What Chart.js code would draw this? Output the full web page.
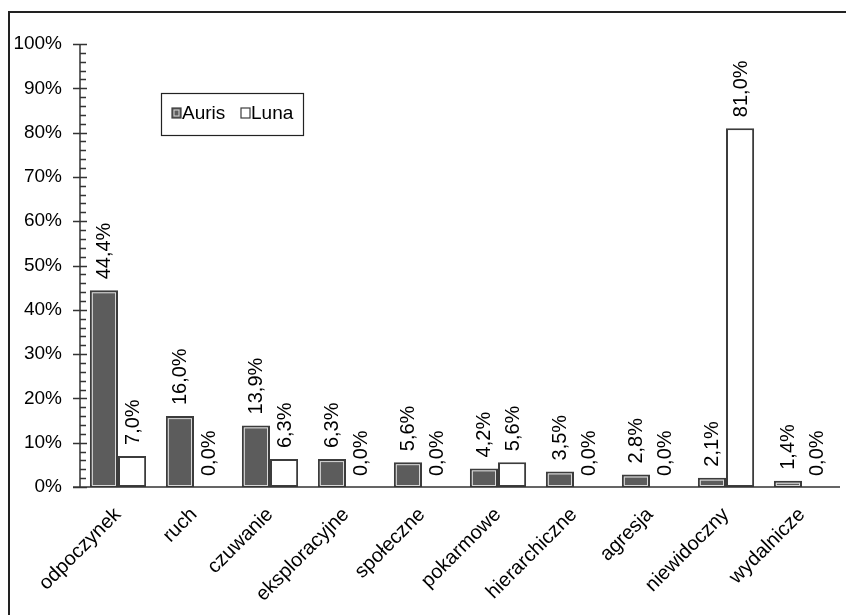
<!DOCTYPE html>
<html>
<head>
<meta charset="utf-8">
<script src="https://cdn.jsdelivr.net/npm/chart.js@4"></script>
<style>
  body { margin: 0; background: #fff; }
  #wrap { width: 846px; height: 615px; }
</style>
</head>
<body>
<div id="wrap"><canvas id="myChart" width="846" height="615"></canvas></div>
<script>
const labels = ['odpoczynek', 'ruch', 'czuwanie', 'eksploracyjne', 'społeczne',
  'pokarmowe', 'hierarchiczne', 'agresja', 'niewidoczny', 'wydalnicze'];
const auris = [44.4, 16.0, 13.9, 6.3, 5.6, 4.2, 3.5, 2.8, 2.1, 1.4];
const luna = [7.0, 0.0, 6.3, 0.0, 0.0, 5.6, 0.0, 0.0, 81.0, 0.0];
const seriesNames = ['Auris', 'Luna'];

let font = '"Liberation Sans", Arial, sans-serif'
let darkFill = '#5c5c5c'
let edge = '#3c3c3c'

// frame, axes with minor ticks, inner line on dark bars, value labels, legend box
const decor = {
  id: 'decor',
  beforeDraw(chart) {
    const ctx = chart.ctx
    ctx.save()
    ctx.strokeStyle = '#222'
    ctx.lineWidth = 2
    ctx.beginPath()
    ctx.moveTo(9, 615)
    ctx.lineTo(9, 12)
    ctx.lineTo(846, 12)
    ctx.stroke()
    ctx.restore()
  },
  afterDatasetsDraw(chart) {
    const ctx = chart.ctx
    const y = chart.scales.y
    const area = chart.chartArea
    ctx.save()

    // inner light line on Auris bars
    chart.getDatasetMeta(0).data.forEach(bar => {
      const w = bar.width
      const x0 = bar.x - w / 2 + 2.5
      const y0 = bar.y + 2.5
      const h = bar.base - bar.y - 4
      if (h > 0) {
        ctx.strokeStyle = '#d8d8d8'
        ctx.lineWidth = 1
        ctx.strokeRect(x0, y0, w - 5, h)
      }
    })

    // axes
    ctx.strokeStyle = '#333'
    ctx.lineWidth = 1.5
    ctx.beginPath()
    ctx.moveTo(area.left, y.getPixelForValue(100))
    ctx.lineTo(area.left, y.getPixelForValue(0))
    ctx.moveTo(area.left - 7, y.getPixelForValue(0))
    ctx.lineTo(area.right, y.getPixelForValue(0))
    for (let v = 0; v <= 100; v += 2) {
      const py = Math.round(y.getPixelForValue(v)) + 0.5
      if (v % 10 == 0) {
        ctx.moveTo(area.left - 7, py)
        ctx.lineTo(area.left + 7, py)
      } else {
        ctx.moveTo(area.left, py)
        ctx.lineTo(area.left + 6, py)
      }
    }
    ctx.stroke()

    // value labels
    ctx.fillStyle = '#000'
    ctx.font = '20px ' + font
    ctx.textAlign = 'left'
    ctx.textBaseline = 'middle'
    chart.data.datasets.forEach((ds, i) => {
      chart.getDatasetMeta(i).data.forEach((bar, j) => {
        const txt = ds.data[j].toFixed(1).replace('.', ',') + '%'
        ctx.save()
        ctx.translate(bar.x + 1, bar.y - 11)
        ctx.rotate(-Math.PI / 2)
        ctx.fillText(txt, 0, 0)
        ctx.restore()
      })
    })

    // legend
    ctx.strokeStyle = '#222'
    ctx.lineWidth = 1.2
    ctx.strokeRect(161.5, 93.5, 142, 42)
    ctx.fillStyle = darkFill
    ctx.fillRect(172, 108, 9, 10)
    ctx.strokeStyle = edge
    ctx.strokeRect(172, 108, 9, 10)
    ctx.strokeStyle = '#d8d8d8'
    ctx.lineWidth = 1
    ctx.strokeRect(174, 110, 5, 6)
    ctx.fillStyle = '#fff'
    ctx.fillRect(241, 108, 9, 10)
    ctx.strokeStyle = edge
    ctx.lineWidth = 1.2
    ctx.strokeRect(241, 108, 9, 10)
    ctx.fillStyle = '#000'
    ctx.font = '19px ' + font
    ctx.textBaseline = 'middle'
    ctx.fillText(seriesNames[0], 182, 114)
    ctx.fillText(seriesNames[1], 251, 114)
    ctx.restore()
  }
}

const data = {
  labels: labels,
  datasets: [
    {
      label: seriesNames[0],
      data: auris,
      backgroundColor: darkFill,
      borderColor: edge,
      borderWidth: 2,
      borderSkipped: false
    },
    {
      label: seriesNames[1],
      data: luna,
      backgroundColor: '#fff',
      borderColor: edge,
      borderWidth: 2,
      borderSkipped: false
    }
  ]
}

const config = {
  type: 'bar',
  data: data,
  plugins: [decor],
  options: {
    responsive: false,
    animation: false,
    categoryPercentage: 0.74,
    barPercentage: 1,
    layout: { padding: { top: 44, right: 6, left: 0, bottom: 0 } },
    plugins: {
      legend: { display: false },
      tooltip: { enabled: false }
    },
    scales: {
      x: {
        grid: { display: false },
        border: { display: false },
        ticks: {
          color: '#000',
          font: { family: font, size: 20 },
          minRotation: 45,
          maxRotation: 45,
          padding: 8,
          autoSkip: false
        },
        afterFit(scale) { scale.height = 128 }
      },
      y: {
        min: 0,
        max: 100,
        grid: { display: false },
        border: { display: false },
        ticks: {
          stepSize: 10,
          color: '#000',
          font: { family: font, size: 19 },
          padding: 10,
          callback: v => v + '%'
        },
        afterFit(scale) { scale.width = 80 }
      }
    }
  }
}

const myChart = new Chart(document.getElementById('myChart'), config)
</script>
</body>
</html>
